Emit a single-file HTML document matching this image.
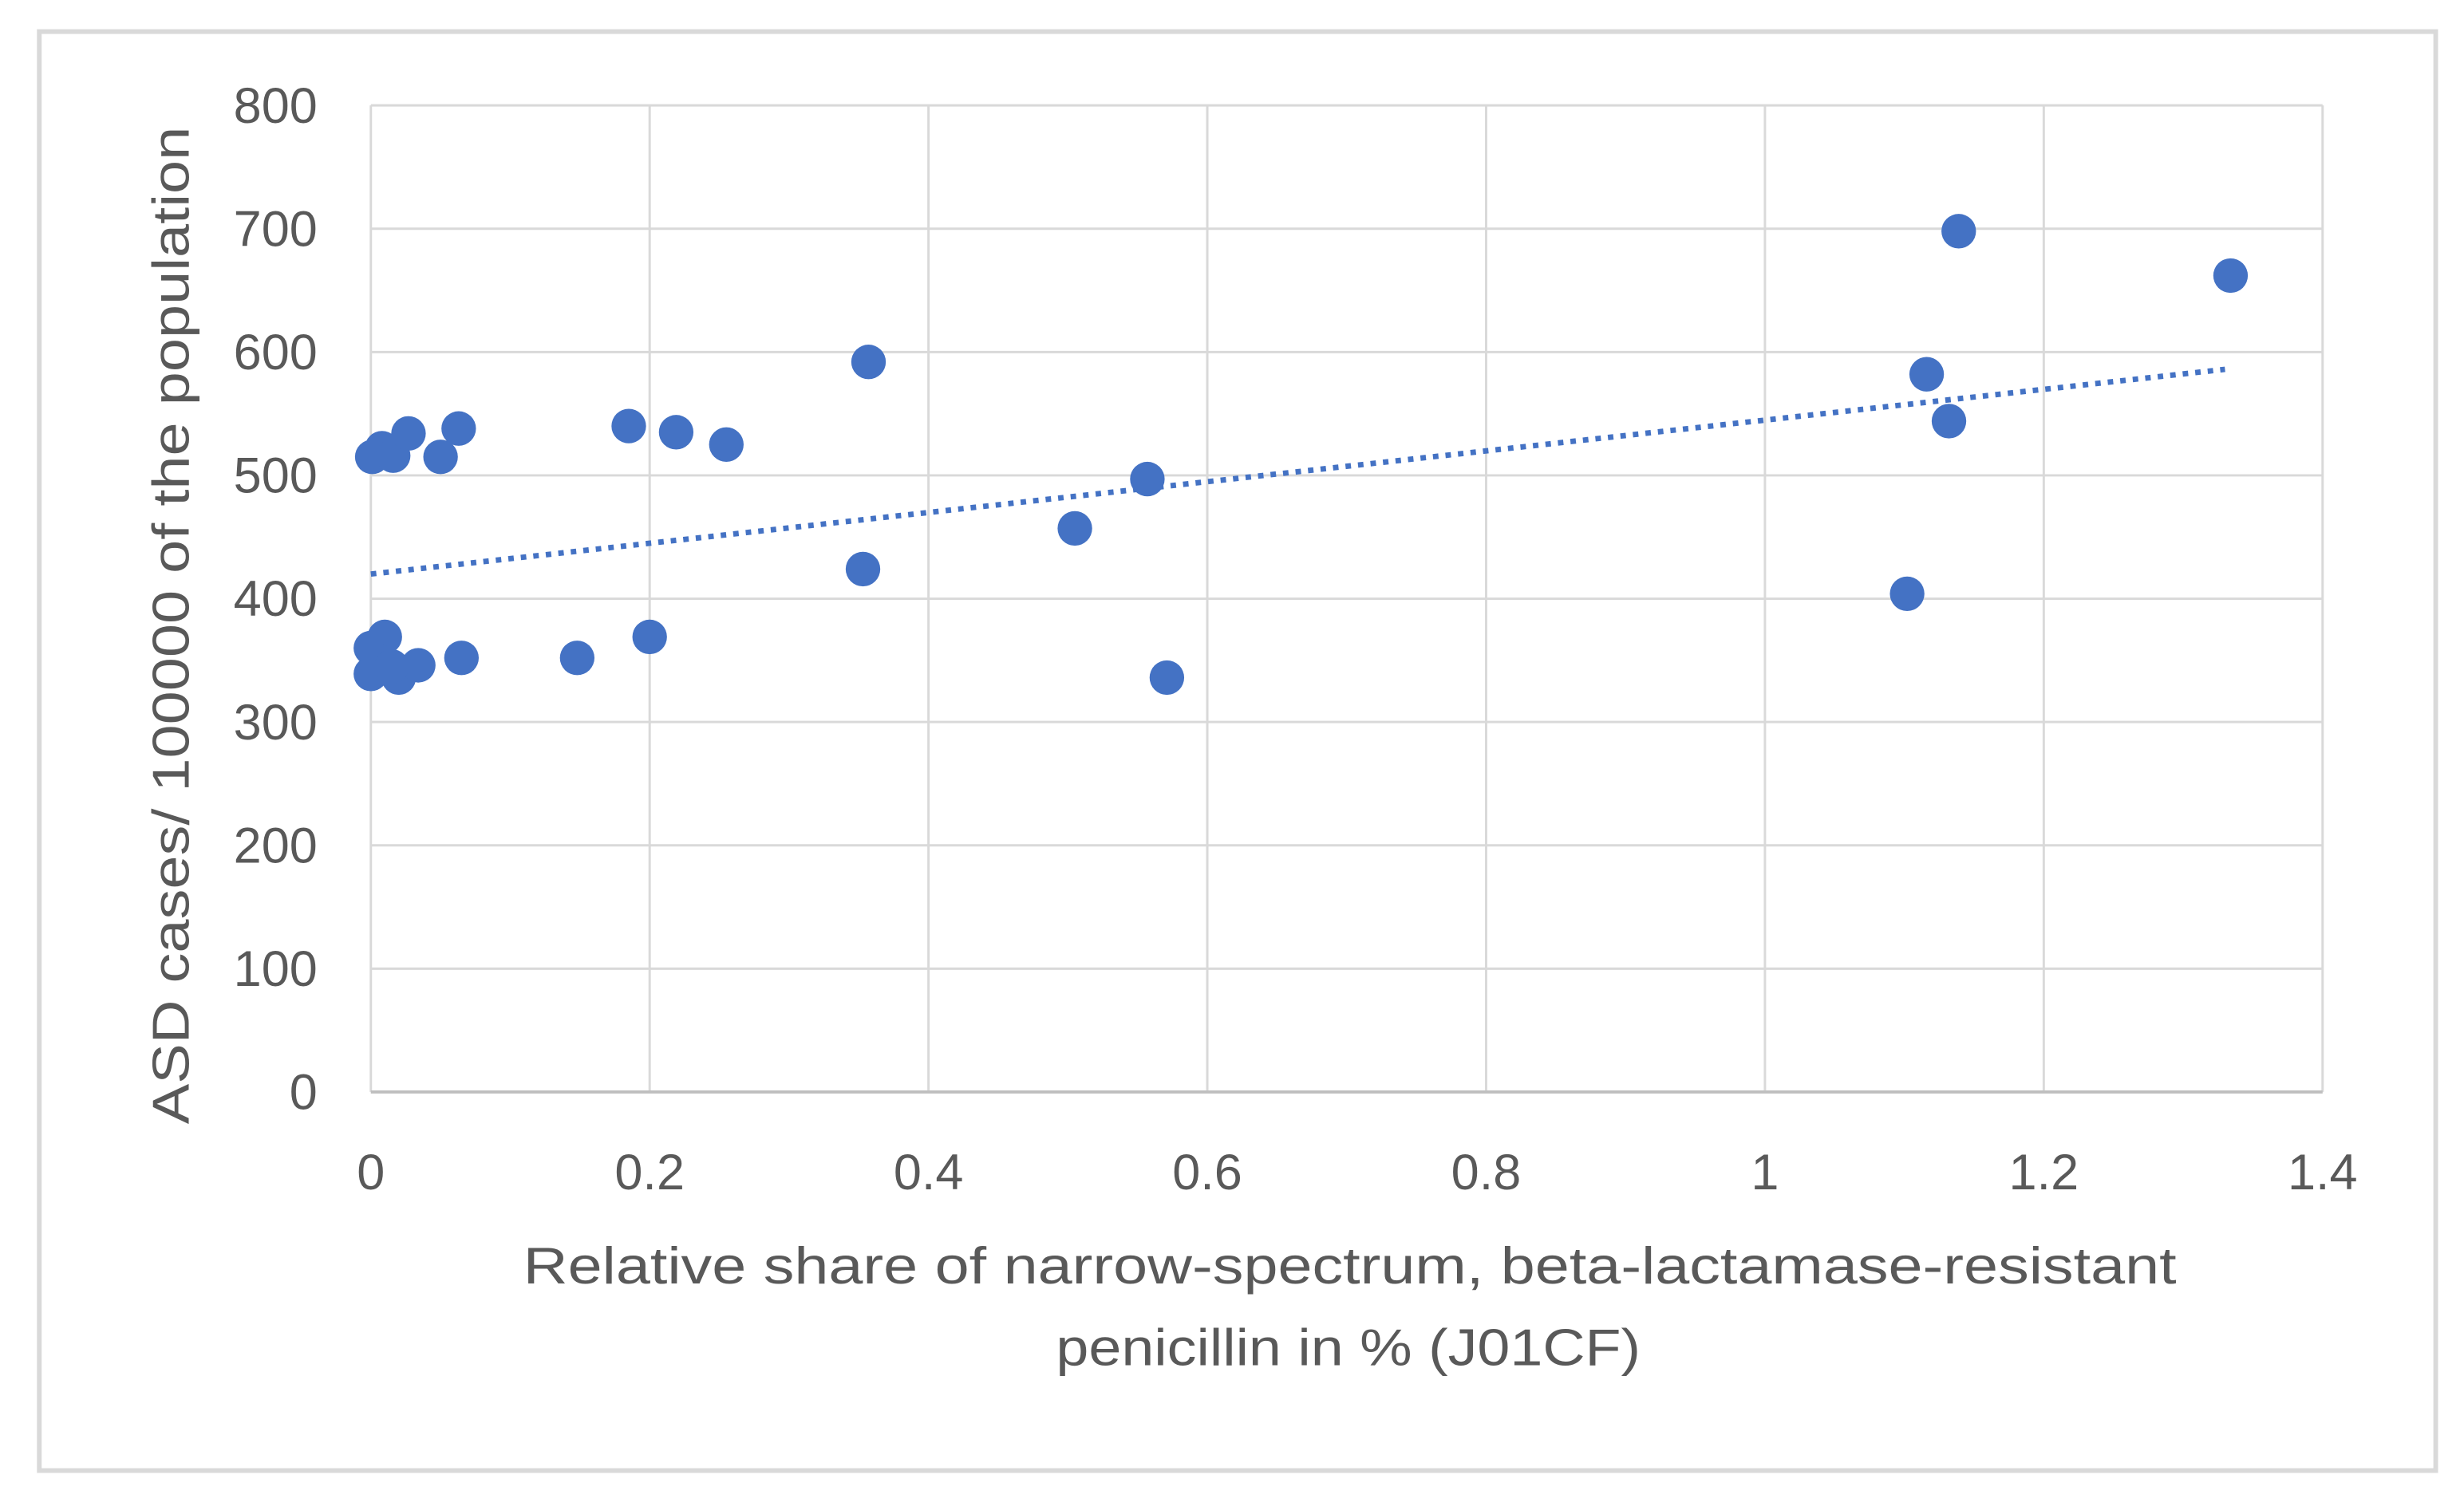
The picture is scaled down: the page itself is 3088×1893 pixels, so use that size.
<!DOCTYPE html>
<html><head><meta charset="utf-8"><style>
html,body{margin:0;padding:0;background:#fff}
svg{display:block}
text{font-family:"Liberation Sans",sans-serif;fill:#595959}
</style></head><body>
<svg id="chart" width="3088" height="1893" viewBox="0 0 1568 961" xmlns="http://www.w3.org/2000/svg">
<rect x="25" y="20" width="1525" height="916" fill="#fff" stroke="#d9d9d9" stroke-width="3"/>
<g id="grid"></g><g id="ticks"></g><g id="trend"></g><g id="pts"></g>
<text transform="translate(120,398) rotate(-90)" text-anchor="middle" font-size="33" textLength="635" lengthAdjust="spacingAndGlyphs">ASD cases/ 100000 of the population</text>
<text x="859" y="817" text-anchor="middle" font-size="33" textLength="1052" lengthAdjust="spacingAndGlyphs">Relative share of narrow-spectrum,  beta-lactamase-resistant</text>
<text x="858" y="869" text-anchor="middle" font-size="33" textLength="372" lengthAdjust="spacingAndGlyphs">penicillin in % (J01CF)</text>
</svg>
<script>
const xTicks=[0,0.2,0.4,0.6,0.8,1,1.2,1.4];
const xTickLabels=["0","0.2","0.4","0.6","0.8","1","1.2","1.4"];
const yTicks=[0,100,200,300,400,500,600,700,800];
const xValues=[0.001,0.008,0.016,0.027,0.05,0.063,0.185,0.219,0.255,0.357,0.353,0.505,0.557,0.571,0,0.01,0,0.02,0.034,0.065,0.148,0.2,1.102,1.116,1.132,1.139,1.334,0.005,0.015];
const yValues=[515,522,516,534,515,538,540,535,525,592,424,457,497,336,360,369,339,336,346,352,352,369,404,582,544,698,662,350,345];
const trendX=[0,1.33];
const trendY=[420,586];
const NS="http://www.w3.org/2000/svg";
const X0=236,X1=1478,Y0=695,Y1=67;
function sx(v){return X0+(v-0)/(1.4-0)*(X1-X0);}
function sy(v){return Y0-(v-0)/(800-0)*(Y0-Y1);}
function mk(tag,attrs,parent){const e=document.createElementNS(NS,tag);for(const k in attrs)e.setAttribute(k,attrs[k]);document.getElementById(parent).appendChild(e);return e;}
yTicks.forEach(t=>{
 const l=mk('line',{x1:X0,x2:X1,y1:sy(t),y2:sy(t),stroke:'#d9d9d9','stroke-width':1.5},'grid');
 
 
 const tx=mk('text',{x:202,y:sy(t)+11,'text-anchor':'end','font-size':32},'ticks');tx.textContent=t;
 
 
});
xTicks.forEach((t,i)=>{
 const l=mk('line',{x1:sx(t),x2:sx(t),y1:Y1,y2:Y0,stroke:'#d9d9d9','stroke-width':1.5},'grid');
 
 
 const tx=mk('text',{x:sx(t),y:757,'text-anchor':'middle','font-size':32},'ticks');tx.textContent=xTickLabels[i];
 
 
});
const ax=mk('line',{x1:X0,x2:X1,y1:Y0,y2:Y0,stroke:'#bfbfbf','stroke-width':2},'grid');


const tl=mk('line',{x1:sx(trendX[0]),y1:sy(trendY[0]),x2:sx(trendX[1]),y2:sy(trendY[1]),stroke:'#4472c4','stroke-width':3.5,'stroke-dasharray':'3.5 4.5'},'trend');


xValues.forEach((x,i)=>{
 const c=mk('circle',{cx:sx(x),cy:sy(yValues[i]),r:11,fill:'#4472c4'},'pts');
 
 
});
</script>
</body></html>
